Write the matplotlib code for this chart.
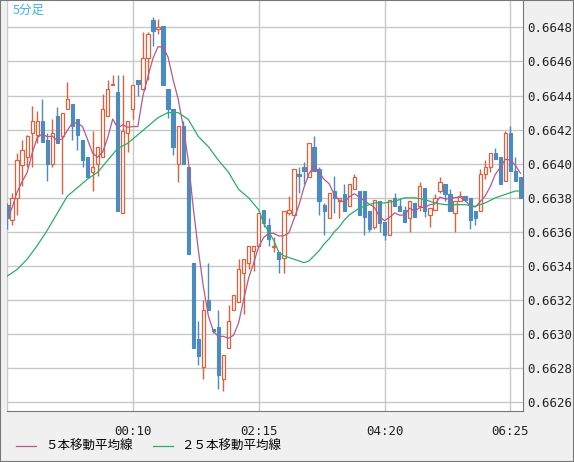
import numpy as np
import pandas as pd
import matplotlib
matplotlib.use("Agg")
import matplotlib.pyplot as plt

# ----------------------------
# Data (prices in units of 0.00001 above 0.6620)
# ----------------------------
opens = [176, 167, 180, 199, 204, 218, 217, 225, 214, 200, 228, 216, 232, 235, 226, 214, 204, 195, 200, 204,
         228, 246, 242, 171, 218, 232, 249, 244, 262, 284, 279, 281, 244, 232, 200, 222, 198, 142, 97, 81,
         120, 103, 104, 74, 92, 114, 119, 136, 142, 149, 152, 173, 164, 151, 148, 145, 171, 170, 194, 198,
         192, 210, 197, 176, 168, 184, 178, 182, 175, 185, 184, 184, 172, 163, 178, 166, 158, 180, 175, 173,
         168, 177, 175, 186, 170, 173, 184, 188, 182, 171, 178, 181, 180, 172, 172, 194, 198, 206, 204, 190,
         218, 196, 192]
closes = [168, 180, 202, 208, 216, 225, 225, 213, 200, 218, 212, 230, 238, 222, 217, 202, 192, 198, 210, 232,
          244, 247, 172, 219, 225, 246, 247, 262, 276, 278, 280, 246, 232, 210, 222, 200, 147, 92, 87, 114,
          114, 102, 76, 88, 108, 123, 138, 144, 152, 152, 171, 165, 156, 152, 144, 172, 173, 197, 193, 196,
          212, 196, 178, 172, 183, 180, 180, 172, 188, 192, 170, 169, 162, 179, 165, 158, 179, 175, 172, 166,
          178, 169, 187, 172, 174, 180, 189, 182, 172, 178, 181, 179, 167, 168, 194, 198, 206, 203, 188, 218,
          196, 190, 180]
highs = [177, 183, 206, 214, 217, 234, 231, 238, 218, 226, 233, 230, 248, 235, 226, 214, 204, 219, 210, 241,
         249, 252, 252, 252, 225, 246, 249, 277, 277, 286, 285, 281, 244, 232, 222, 225, 198, 142, 108, 120,
         142, 103, 114, 88, 117, 123, 144, 144, 152, 152, 171, 173, 168, 157, 148, 172, 181, 197, 198, 201,
         212, 216, 198, 177, 183, 193, 180, 188, 188, 194, 184, 184, 172, 179, 178, 166, 179, 183, 180, 175,
         178, 177, 189, 186, 174, 182, 192, 188, 185, 178, 184, 181, 180, 172, 197, 202, 206, 209, 204, 219,
         222, 204, 192]
lows = [162, 164, 170, 187, 198, 198, 212, 213, 190, 198, 212, 182, 232, 214, 208, 198, 192, 184, 193, 204,
        228, 246, 172, 171, 207, 226, 240, 243, 249, 269, 276, 246, 227, 205, 189, 200, 147, 92, 82, 74,
        114, 101, 68, 67, 92, 114, 119, 112, 138, 137, 152, 163, 152, 148, 136, 136, 170, 170, 183, 188,
        192, 196, 170, 158, 168, 171, 168, 172, 175, 185, 170, 158, 160, 162, 160, 155, 158, 175, 172, 166,
        160, 169, 172, 169, 163, 173, 183, 178, 172, 160, 178, 178, 162, 164, 172, 191, 195, 203, 188, 190,
        196, 190, 180]

# 25-period moving average (index, value)
ma25_idx = [0, 2, 4, 6, 8, 10, 12, 14, 16, 18, 20, 22, 24, 26, 28, 30, 32, 34, 36, 38, 40, 42, 44, 46, 48,
            50, 51, 53, 54, 55, 57, 59, 60, 61, 62, 63, 64, 65, 66, 67, 68, 69, 70, 71, 73, 75, 77, 79, 81,
            83, 85, 87, 89, 91, 93, 95, 97, 99, 101, 102]
ma25_val = [134, 138, 144, 152, 161, 171, 181, 186, 191, 195, 202, 209, 212, 217, 222, 227, 230, 230, 226, 216,
            210, 202, 195, 185, 180, 173, 165, 155, 148, 146, 144, 142, 143, 146, 149, 153, 156, 160, 163, 167,
            170, 172, 174, 175, 177, 177, 178, 180, 180, 179, 177, 176, 176, 176, 175, 177, 180, 182, 184, 184]

tick_pos = [25, 50, 75, 100]
tick_labels = ["00:10", "02:15", "04:20", "06:25"]
y_ticks = [0.6626, 0.6628, 0.6630, 0.6632, 0.6634, 0.6636, 0.6638, 0.6640, 0.6642, 0.6644, 0.6646, 0.6648]


def to_price(a):
    return 0.6620 + np.asarray(a, dtype=float) * 1e-5


o, c, h, l = to_price(opens), to_price(closes), to_price(highs), to_price(lows)
ma5 = pd.Series(c).rolling(5, min_periods=1).mean().values
ma25 = to_price(ma25_val)
x = np.arange(len(o))

UP = "#e0603c"
DOWN = "#4b8bc2"
JP = ["Noto Sans CJK JP", "DejaVu Sans"]

# ----------------------------
# Plot
# ----------------------------
fig = plt.figure(figsize=(5.74, 4.62), dpi=100, facecolor="#f0f0f0")
ax = fig.add_axes([7 / 574, 51 / 462, 516 / 574, 411 / 462])
ax.set_facecolor("white")

up = c >= o
ax.vlines(x, l, h, colors=np.where(up, UP, DOWN), linewidth=1, zorder=2)
ax.bar(x[~up], (o - c)[~up], bottom=c[~up], width=0.65, color=DOWN, edgecolor=DOWN, linewidth=0.8, zorder=3)
ax.bar(x[up], np.maximum((c - o)[up], 2e-6), bottom=o[up], width=0.65, facecolor="white",
       edgecolor=UP, linewidth=0.9, zorder=3)

ax.plot(x, ma5, color="#b55a8a", linewidth=0.9, zorder=4)
ax.plot(ma25_idx, ma25, color="#2aae6a", linewidth=0.9, zorder=4)

ax.set_xlim(0, 102.5)
ax.set_ylim(0.66255, 0.66496)
ax.set_xticks(tick_pos)
ax.set_xticklabels(tick_labels, family="DejaVu Sans Mono")
ax.set_yticks(y_ticks)
ax.set_yticklabels([f"{v:.4f}" for v in y_ticks], family="DejaVu Sans Mono")
ax.yaxis.tick_right()
ax.tick_params(length=0, labelsize=9, colors="#222222", pad=3)
ax.tick_params(axis="x", pad=10)
for v in [0] + tick_pos:
    ax.axvline(v, color="#c8c8c8", linewidth=1, zorder=0)
ax.grid(axis="y", color="#c8c8c8", linewidth=1, zorder=0)
for s in ax.spines.values():
    s.set_color("#777777")
ax.spines["top"].set_visible(False)
ax.spines["left"].set_visible(False)

ax.text(0.01, 0.99, "5分足", transform=ax.transAxes, va="top", ha="left", color="#3fb4e6",
        fontsize=9, family=JP)

# legend drawn below
fig.lines.append(plt.Line2D([16 / 574, 36 / 574], [16 / 462, 16 / 462], color="#b55a8a", linewidth=0.9,
                            transform=fig.transFigure))
fig.text(45 / 574, 16 / 462, "５本移動平均線", va="center", fontsize=9, family=JP)
fig.lines.append(plt.Line2D([153 / 574, 173 / 574], [16 / 462, 16 / 462], color="#2aae6a", linewidth=0.9,
                            transform=fig.transFigure))
fig.text(181 / 574, 16 / 462, "２５本移動平均線", va="center", fontsize=9, family=JP)

fig.patches.append(plt.Rectangle((0, 0), 1, 1, fill=False, edgecolor="#777777", linewidth=1.5,
                                 transform=fig.transFigure))

fig.savefig("out.png", dpi=100, facecolor=fig.get_facecolor())
